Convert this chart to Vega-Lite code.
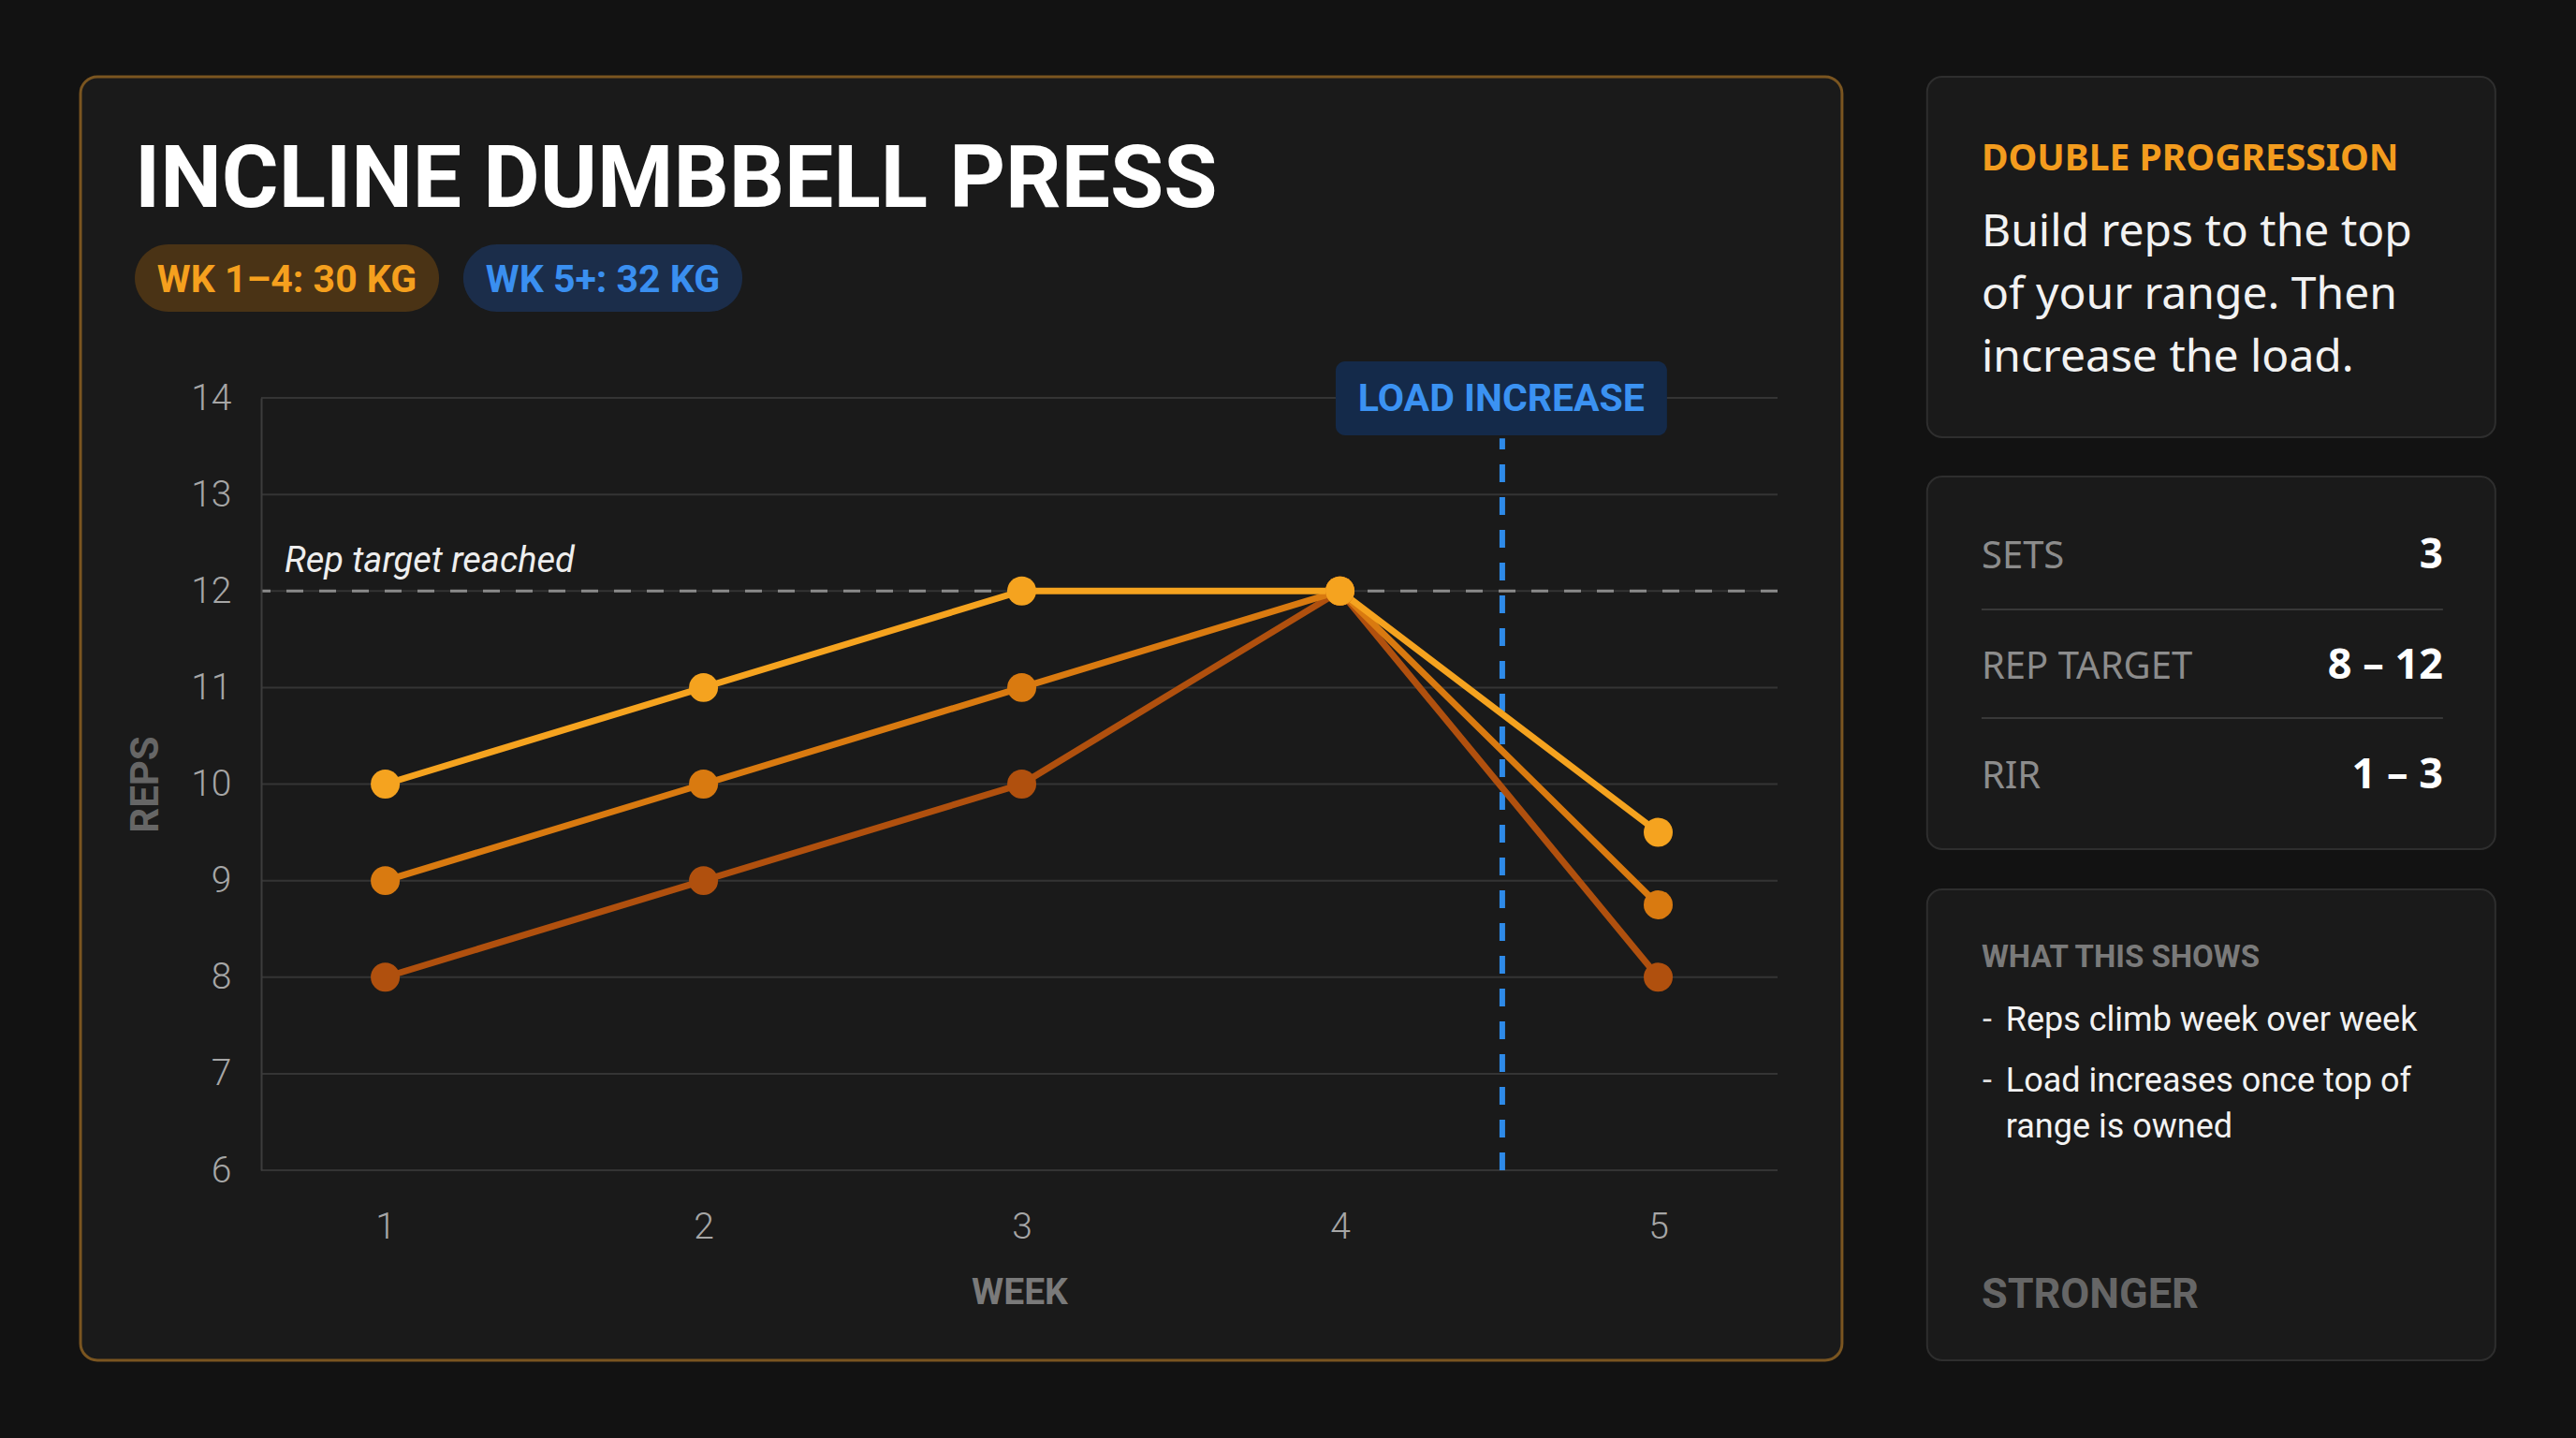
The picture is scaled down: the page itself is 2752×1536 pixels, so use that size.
{
  "$schema": "https://vega.github.io/schema/vega-lite/v6.json",
  "width": 1620,
  "height": 825,
  "autosize": "none",
  "padding": {"left": 279, "top": 425, "right": 853, "bottom": 286},
  "background": "#121212",
  "config": {"view": {"stroke": null}},
  "datasets": {
    "reps": [
      {"week": 1, "set": "Set 3", "reps": 8},
      {"week": 2, "set": "Set 3", "reps": 9},
      {"week": 3, "set": "Set 3", "reps": 10},
      {"week": 4, "set": "Set 3", "reps": 12},
      {"week": 5, "set": "Set 3", "reps": 8},
      {"week": 1, "set": "Set 2", "reps": 9},
      {"week": 2, "set": "Set 2", "reps": 10},
      {"week": 3, "set": "Set 2", "reps": 11},
      {"week": 4, "set": "Set 2", "reps": 12},
      {"week": 5, "set": "Set 2", "reps": 8.75},
      {"week": 1, "set": "Set 1", "reps": 10},
      {"week": 2, "set": "Set 1", "reps": 11},
      {"week": 3, "set": "Set 1", "reps": 12},
      {"week": 4, "set": "Set 1", "reps": 12},
      {"week": 5, "set": "Set 1", "reps": 9.5}
    ],
    "grid": [
      {"reps": 6}, {"reps": 7}, {"reps": 8}, {"reps": 9}, {"reps": 10},
      {"reps": 11}, {"reps": 12}, {"reps": 13}, {"reps": 14}
    ]
  },
  "layer": [
    {
      "data": {"values": [{}]},
      "mark": {"type": "rect", "fill": "#1a1a1a", "stroke": "#7a5520", "strokeWidth": 3, "cornerRadius": 18},
      "encoding": {
        "x": {"datum": 0.0424}, "x2": {"datum": 5.5776},
        "y": {"datum": 17.326}, "y2": {"datum": 4.032}
      }
    },
    {
      "data": {"values": [{}]},
      "mark": {"type": "rect", "fill": "#1a1a1a", "stroke": "#2e2e2e", "strokeWidth": 2, "cornerRadius": 16},
      "encoding": {
        "x": {"datum": 5.845}, "x2": {"datum": 7.6306},
        "y": {"datum": 17.326}, "y2": {"datum": 13.593}
      }
    },
    {
      "data": {"values": [{}]},
      "mark": {"type": "rect", "fill": "#1a1a1a", "stroke": "#2e2e2e", "strokeWidth": 2, "cornerRadius": 16},
      "encoding": {
        "x": {"datum": 5.845}, "x2": {"datum": 7.6306},
        "y": {"datum": 13.185}, "y2": {"datum": 9.326}
      }
    },
    {
      "data": {"values": [{}]},
      "mark": {"type": "rect", "fill": "#1a1a1a", "stroke": "#2e2e2e", "strokeWidth": 2, "cornerRadius": 16},
      "encoding": {
        "x": {"datum": 5.845}, "x2": {"datum": 7.6306},
        "y": {"datum": 8.909}, "y2": {"datum": 4.032}
      }
    },
    {
      "data": {"name": "grid"},
      "mark": {"type": "rule", "stroke": "#343434", "strokeWidth": 2},
      "encoding": {
        "y": {"field": "reps", "type": "quantitative"}
      }
    },
    {
      "data": {"values": [{}]},
      "mark": {"type": "rule", "stroke": "#8a8a8a", "strokeWidth": 3, "strokeDash": [18, 17]},
      "encoding": {"y": {"datum": 12}}
    },
    {
      "data": {"values": [{}]},
      "mark": {"type": "rule", "stroke": "#2e8ae8", "strokeWidth": 6, "strokeDash": [19, 16]},
      "encoding": {"x": {"datum": 4.51}, "y": {"datum": 6}, "y2": {"datum": 13.58}}
    },
    {
      "data": {"values": [{}]},
      "mark": {"type": "rect", "fill": "#142a4a", "cornerRadius": 10},
      "encoding": {
        "x": {"datum": 3.9865}, "x2": {"datum": 5.0276},
        "y": {"datum": 14.378}, "y2": {"datum": 13.612}
      }
    },
    {
      "data": {"values": [{}]},
      "mark": {"type": "text", "text": "LOAD INCREASE", "font": "Roboto", "fontWeight": "bold", "fontSize": 41, "fill": "#3b92f2", "align": "center", "baseline": "middle"},
      "encoding": {"x": {"datum": 4.507}, "y": {"datum": 13.98}}
    },
    {
      "data": {"name": "reps"},
      "mark": {"type": "line", "strokeWidth": 7},
      "encoding": {
        "x": {
          "field": "week", "type": "quantitative",
          "scale": {"domain": [0.61, 5.375], "nice": false, "zero": false},
          "axis": {
            "title": "WEEK", "values": [1, 2, 3, 4, 5], "format": "d", "grid": false, "ticks": false, "domain": false,
            "labelFont": "Roboto", "labelFontSize": 39, "labelFontWeight": 300, "labelColor": "#a6a6a6", "labelPadding": 41, "labelFlush": false,
            "titleFont": "Roboto", "titleFontSize": 39, "titleFontWeight": "bold", "titleColor": "#7a7a7a", "titlePadding": 31,
            "zindex": 1
          }
        },
        "y": {
          "field": "reps", "type": "quantitative",
          "scale": {"domain": [6, 14], "nice": false, "zero": false},
          "axis": {
            "title": "REPS", "values": [6, 7, 8, 9, 10, 11, 12, 13, 14], "format": "d", "grid": false, "ticks": false,
            "domain": true, "domainColor": "#3c3c3c", "domainWidth": 2,
            "labelFont": "Roboto", "labelFontSize": 39, "labelFontWeight": 300, "labelColor": "#a6a6a6", "labelPadding": 32, "labelFlush": false,
            "titleFont": "Roboto", "titleFontSize": 42, "titleFontWeight": "bold", "titleColor": "#666666", "titlePadding": 26,
            "zindex": 1
          }
        },
        "color": {
          "field": "set", "type": "nominal",
          "scale": {"domain": ["Set 1", "Set 2", "Set 3"], "range": ["#f5a31f", "#d97a10", "#b0500e"]},
          "legend": null
        },
        "order": {"field": "week"}
      }
    },
    {
      "data": {"name": "reps"},
      "mark": {"type": "circle", "size": 960, "opacity": 1},
      "encoding": {
        "x": {"field": "week", "type": "quantitative"},
        "y": {"field": "reps", "type": "quantitative"},
        "color": {"field": "set", "type": "nominal", "legend": null}
      }
    },
    {
      "data": {"values": [{}]},
      "mark": {"type": "text", "text": "Rep target reached", "font": "Roboto", "fontStyle": "italic", "fontSize": 38, "fill": "#eeeeee", "align": "left", "baseline": "alphabetic"},
      "encoding": {"x": {"datum": 0.6835}, "y": {"datum": 12.196}}
    },
    {
      "data": {"values": [{}]},
      "mark": {"type": "text", "text": "INCLINE DUMBBELL PRESS", "font": "Roboto", "fontWeight": "bold", "fontSize": 93, "fill": "#ffffff", "align": "left", "baseline": "alphabetic"},
      "encoding": {"x": {"datum": 0.213}, "y": {"datum": 15.978}}
    },
    {
      "data": {"values": [{}]},
      "mark": {"type": "rect", "fill": "#4a3315", "cornerRadius": 36},
      "encoding": {
        "x": {"datum": 0.213}, "x2": {"datum": 1.169},
        "y": {"datum": 15.59}, "y2": {"datum": 14.892}
      }
    },
    {
      "data": {"values": [{}]},
      "mark": {"type": "text", "text": "WK 1–4: 30 KG", "font": "Roboto", "fontWeight": "bold", "fontSize": 41, "fill": "#f5a01e", "align": "center", "baseline": "middle"},
      "encoding": {"x": {"datum": 0.691}, "y": {"datum": 15.21}}
    },
    {
      "data": {"values": [{}]},
      "mark": {"type": "rect", "fill": "#1b2d4a", "cornerRadius": 36},
      "encoding": {
        "x": {"datum": 1.245}, "x2": {"datum": 2.122},
        "y": {"datum": 15.59}, "y2": {"datum": 14.892}
      }
    },
    {
      "data": {"values": [{}]},
      "mark": {"type": "text", "text": "WK 5+: 32 KG", "font": "Roboto", "fontWeight": "bold", "fontSize": 41, "fill": "#3a8ff0", "align": "center", "baseline": "middle"},
      "encoding": {"x": {"datum": 1.6835}, "y": {"datum": 15.21}}
    },
    {
      "data": {"values": [{}]},
      "mark": {"type": "text", "text": "DOUBLE PROGRESSION", "font": "Noto Sans", "fontWeight": "bold", "fontSize": 39, "fill": "#f39c1e", "align": "left", "baseline": "alphabetic"},
      "encoding": {"x": {"datum": 6.016}, "y": {"datum": 16.36}}
    },
    {
      "data": {"values": [{}]},
      "mark": {"type": "text", "text": ["Build reps to the top", "of your range. Then", "increase the load."], "lineHeight": 67, "font": "Noto Sans", "fontSize": 48, "fill": "#f2f2f2", "align": "left", "baseline": "alphabetic"},
      "encoding": {"x": {"datum": 6.016}, "y": {"datum": 15.571}}
    },
    {
      "data": {"values": [{}]},
      "mark": {"type": "rule", "stroke": "#383838", "strokeWidth": 2},
      "encoding": {"x": {"datum": 6.016}, "x2": {"datum": 7.466}, "y": {"datum": 11.808}}
    },
    {
      "data": {"values": [{}]},
      "mark": {"type": "rule", "stroke": "#383838", "strokeWidth": 2},
      "encoding": {"x": {"datum": 6.016}, "x2": {"datum": 7.466}, "y": {"datum": 10.684}}
    },
    {
      "data": {"values": [{}]},
      "mark": {"type": "text", "text": "SETS", "font": "Noto Sans", "fontSize": 40, "fill": "#8c8c8c", "align": "left", "baseline": "alphabetic"},
      "encoding": {"x": {"datum": 6.016}, "y": {"datum": 12.235}}
    },
    {
      "data": {"values": [{}]},
      "mark": {"type": "text", "text": "REP TARGET", "font": "Noto Sans", "fontSize": 40, "fill": "#8c8c8c", "align": "left", "baseline": "alphabetic"},
      "encoding": {"x": {"datum": 6.016}, "y": {"datum": 11.091}}
    },
    {
      "data": {"values": [{}]},
      "mark": {"type": "text", "text": "RIR", "font": "Noto Sans", "fontSize": 40, "fill": "#8c8c8c", "align": "left", "baseline": "alphabetic"},
      "encoding": {"x": {"datum": 6.016}, "y": {"datum": 9.956}}
    },
    {
      "data": {"values": [{}]},
      "mark": {"type": "text", "text": "3", "font": "Noto Sans", "fontWeight": "bold", "fontSize": 44, "fill": "#ffffff", "align": "right", "baseline": "alphabetic"},
      "encoding": {"x": {"datum": 7.466}, "y": {"datum": 12.235}}
    },
    {
      "data": {"values": [{}]},
      "mark": {"type": "text", "text": "8 – 12", "font": "Noto Sans", "fontWeight": "bold", "fontSize": 45, "fill": "#ffffff", "align": "right", "baseline": "alphabetic"},
      "encoding": {"x": {"datum": 7.466}, "y": {"datum": 11.091}}
    },
    {
      "data": {"values": [{}]},
      "mark": {"type": "text", "text": "1 – 3", "font": "Noto Sans", "fontWeight": "bold", "fontSize": 45, "fill": "#ffffff", "align": "right", "baseline": "alphabetic"},
      "encoding": {"x": {"datum": 7.466}, "y": {"datum": 9.956}}
    },
    {
      "data": {"values": [{}]},
      "mark": {"type": "text", "text": "WHAT THIS SHOWS", "font": "Roboto", "fontWeight": "bold", "fontSize": 33, "fill": "#7a7a7a", "align": "left", "baseline": "alphabetic"},
      "encoding": {"x": {"datum": 6.016}, "y": {"datum": 8.104}}
    },
    {
      "data": {"values": [{}]},
      "mark": {"type": "text", "text": "-", "font": "Roboto", "fontSize": 36, "fill": "#dddddd", "align": "left", "baseline": "alphabetic"},
      "encoding": {"x": {"datum": 6.019}, "y": {"datum": 7.445}}
    },
    {
      "data": {"values": [{}]},
      "mark": {"type": "text", "text": "Reps climb week over week", "font": "Roboto", "fontSize": 36, "fill": "#f2f2f2", "align": "left", "baseline": "alphabetic"},
      "encoding": {"x": {"datum": 6.092}, "y": {"datum": 7.445}}
    },
    {
      "data": {"values": [{}]},
      "mark": {"type": "text", "text": "-", "font": "Roboto", "fontSize": 36, "fill": "#dddddd", "align": "left", "baseline": "alphabetic"},
      "encoding": {"x": {"datum": 6.019}, "y": {"datum": 6.815}}
    },
    {
      "data": {"values": [{}]},
      "mark": {"type": "text", "text": ["Load increases once top of", "range is owned"], "lineHeight": 49, "font": "Roboto", "fontSize": 36, "fill": "#f2f2f2", "align": "left", "baseline": "alphabetic"},
      "encoding": {"x": {"datum": 6.092}, "y": {"datum": 6.815}}
    },
    {
      "data": {"values": [{}]},
      "mark": {"type": "text", "text": "STRONGER", "font": "Roboto", "fontWeight": "bold", "fontSize": 45, "fill": "#666666", "align": "left", "baseline": "alphabetic"},
      "encoding": {"x": {"datum": 6.016}, "y": {"datum": 4.575}}
    }
  ]
}
